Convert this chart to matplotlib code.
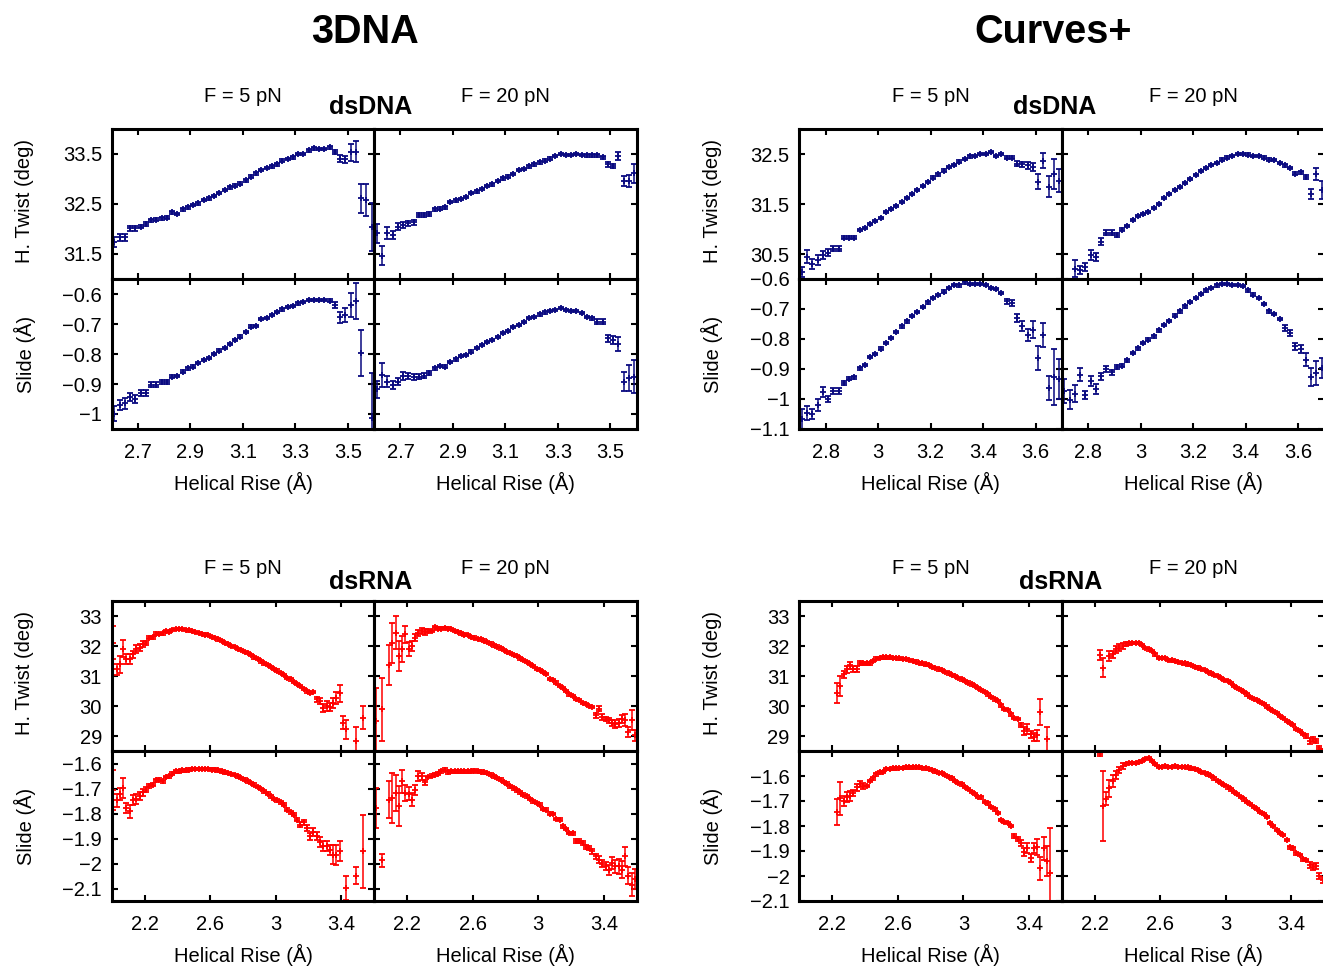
import numpy as np
import matplotlib
matplotlib.use('Agg')
import matplotlib.pyplot as plt
from matplotlib.ticker import FuncFormatter

plt.rcParams['font.family'] = ['Liberation Sans', 'DejaVu Sans']

# helical rise bins (A)
rise_3dna_dna = [2.61, 2.63, 2.65, 2.67, 2.69, 2.71, 2.73, 2.75, 2.77, 2.79,
                 2.81, 2.83, 2.85, 2.87, 2.89, 2.91, 2.93, 2.95, 2.97, 2.99,
                 3.01, 3.03, 3.05, 3.07, 3.09, 3.11, 3.13, 3.15, 3.17, 3.19,
                 3.21, 3.23, 3.25, 3.27, 3.29, 3.31, 3.33, 3.35, 3.37, 3.39,
                 3.41, 3.43, 3.45, 3.47, 3.49, 3.51, 3.53, 3.55, 3.57, 3.59]
rise_curves_dna = [2.71, 2.73, 2.75, 2.77, 2.79, 2.81, 2.83, 2.85, 2.87, 2.89,
                   2.91, 2.93, 2.95, 2.97, 2.99, 3.01, 3.03, 3.05, 3.07, 3.09,
                   3.11, 3.13, 3.15, 3.17, 3.19, 3.21, 3.23, 3.25, 3.27, 3.29,
                   3.31, 3.33, 3.35, 3.37, 3.39, 3.41, 3.43, 3.45, 3.47, 3.49,
                   3.51, 3.53, 3.55, 3.57, 3.59, 3.61, 3.63, 3.65, 3.67, 3.69]
rise_rna = [2.01, 2.03, 2.05, 2.07, 2.09, 2.11, 2.13, 2.15, 2.17, 2.19,
            2.21, 2.23, 2.25, 2.27, 2.29, 2.31, 2.33, 2.35, 2.37, 2.39,
            2.41, 2.43, 2.45, 2.47, 2.49, 2.51, 2.53, 2.55, 2.57, 2.59,
            2.61, 2.63, 2.65, 2.67, 2.69, 2.71, 2.73, 2.75, 2.77, 2.79,
            2.81, 2.83, 2.85, 2.87, 2.89, 2.91, 2.93, 2.95, 2.97, 2.99,
            3.01, 3.03, 3.05, 3.07, 3.09, 3.11, 3.13, 3.15, 3.17, 3.19,
            3.21, 3.23, 3.25, 3.27, 3.29, 3.31, 3.33, 3.35, 3.37, 3.39,
            3.41, 3.43, 3.45, 3.47, 3.49, 3.51, 3.53, 3.55, 3.57, 3.59]

# ---- 3DNA dsDNA ----
twist_3dna_dna_f5 = [31.73, 31.83, 31.83, 32.01, 32.01, 32.05, 32.10, 32.17, 32.18, 32.21,
                     32.23, 32.33, 32.30, 32.39, 32.43, 32.48, 32.51, 32.58, 32.61, 32.66,
                     32.71, 32.77, 32.83, 32.87, 32.91, 32.97, 33.05, 33.11, 33.18, 33.21,
                     33.25, 33.29, 33.37, 33.40, 33.43, 33.49, 33.50, 33.57, 33.61, 33.59,
                     33.59, 33.63, 33.54, 33.41, 33.39, 33.53, 33.55, 32.61, 32.58, 32.03]
twist_3dna_dna_f5_err = [0.10, 0.07, 0.07, 0.05, 0.05, 0.04, 0.04, 0.03, 0.03, 0.03,
                         0.02, 0.02, 0.02, 0.02, 0.02, 0.02, 0.02, 0.02, 0.02, 0.02,
                         0.02, 0.02, 0.02, 0.02, 0.02, 0.02, 0.02, 0.02, 0.02, 0.02,
                         0.02, 0.02, 0.02, 0.02, 0.02, 0.02, 0.02, 0.02, 0.02, 0.02,
                         0.02, 0.03, 0.04, 0.06, 0.07, 0.17, 0.20, 0.29, 0.32, 0.48]
slide_3dna_dna_f5 = [-1.000, -0.970, -0.965, -0.944, -0.951, -0.929, -0.929, -0.903, -0.903, -0.893,
                     -0.893, -0.876, -0.873, -0.859, -0.848, -0.842, -0.831, -0.820, -0.813, -0.800,
                     -0.789, -0.780, -0.767, -0.753, -0.742, -0.726, -0.709, -0.707, -0.683, -0.680,
                     -0.670, -0.659, -0.651, -0.644, -0.639, -0.631, -0.626, -0.620, -0.620, -0.620,
                     -0.620, -0.622, -0.637, -0.678, -0.670, -0.637, -0.622, -0.798, None, -1.014]
slide_3dna_dna_f5_err = [0.025, 0.017, 0.017, 0.013, 0.013, 0.010, 0.010, 0.008, 0.008, 0.007,
                         0.006, 0.005, 0.004, 0.004, 0.004, 0.004, 0.004, 0.004, 0.004, 0.004,
                         0.004, 0.004, 0.004, 0.004, 0.004, 0.004, 0.004, 0.004, 0.004, 0.004,
                         0.004, 0.004, 0.004, 0.004, 0.004, 0.004, 0.004, 0.004, 0.004, 0.004,
                         0.004, 0.004, 0.011, 0.017, 0.024, 0.039, 0.060, 0.077, 0.0, 0.150]
twist_3dna_dna_f20 = [31.91, 31.46, 31.91, 31.88, 32.05, 32.08, 32.11, 32.13, 32.28, 32.28,
                      32.30, 32.39, 32.41, 32.43, 32.53, 32.57, 32.59, 32.63, 32.71, 32.75,
                      32.80, 32.85, 32.89, 32.95, 33.01, 33.05, 33.10, 33.17, 33.20, 33.25,
                      33.29, 33.33, 33.37, 33.41, 33.45, 33.50, 33.48, 33.48, 33.50, 33.48,
                      33.47, 33.47, 33.47, 33.43, 33.29, 33.26, 33.46, 32.96, 32.96, 33.11]
twist_3dna_dna_f20_err = [0.19, 0.19, 0.12, 0.08, 0.07, 0.06, 0.05, 0.05, 0.04, 0.04,
                          0.03, 0.02, 0.02, 0.02, 0.02, 0.02, 0.02, 0.02, 0.02, 0.02,
                          0.02, 0.02, 0.02, 0.02, 0.02, 0.02, 0.02, 0.02, 0.02, 0.02,
                          0.02, 0.02, 0.02, 0.02, 0.02, 0.02, 0.02, 0.02, 0.02, 0.02,
                          0.02, 0.02, 0.02, 0.03, 0.05, 0.05, 0.08, 0.10, 0.12, 0.19]
slide_3dna_dna_f20 = [-0.918, -0.870, -0.892, -0.903, -0.892, -0.873, -0.873, -0.876, -0.876, -0.872,
                      -0.864, -0.848, -0.840, -0.842, -0.826, -0.818, -0.806, -0.803, -0.792, -0.780,
                      -0.770, -0.761, -0.753, -0.744, -0.731, -0.723, -0.711, -0.703, -0.694, -0.679,
                      -0.676, -0.668, -0.661, -0.657, -0.653, -0.646, -0.653, -0.656, -0.657, -0.664,
                      -0.676, -0.681, -0.692, -0.692, -0.748, -0.753, -0.767, -0.892, -0.881, -0.876]
slide_3dna_dna_f20_err = [0.028, 0.040, 0.017, 0.013, 0.013, 0.013, 0.010, 0.010, 0.008, 0.008,
                          0.006, 0.005, 0.004, 0.004, 0.004, 0.004, 0.004, 0.004, 0.004, 0.004,
                          0.004, 0.004, 0.004, 0.004, 0.004, 0.004, 0.004, 0.004, 0.004, 0.004,
                          0.004, 0.004, 0.004, 0.004, 0.004, 0.004, 0.004, 0.004, 0.004, 0.004,
                          0.004, 0.004, 0.009, 0.009, 0.011, 0.013, 0.022, 0.033, 0.044, 0.055]

# ---- Curves+ dsDNA ----
twist_curves_dna_f5 = [30.15, 30.45, 30.30, 30.38, 30.48, 30.53, 30.61, 30.61, 30.83, 30.83,
                       30.83, 30.98, 31.03, 31.11, 31.16, 31.23, 31.34, 31.41, 31.47, 31.55,
                       31.63, 31.71, 31.79, 31.87, 31.95, 32.03, 32.09, 32.17, 32.24, 32.29,
                       32.35, 32.40, 32.45, 32.47, 32.51, 32.51, 32.54, 32.47, 32.50, 32.43,
                       32.43, 32.31, 32.30, 32.27, 32.25, 31.94, 32.37, 31.85, 32.11, 31.97]
twist_curves_dna_f5_err = [0.10, 0.13, 0.10, 0.10, 0.08, 0.07, 0.05, 0.05, 0.03, 0.03,
                           0.03, 0.02, 0.02, 0.02, 0.02, 0.02, 0.02, 0.02, 0.02, 0.02,
                           0.02, 0.02, 0.02, 0.02, 0.02, 0.02, 0.02, 0.02, 0.02, 0.02,
                           0.02, 0.02, 0.02, 0.02, 0.02, 0.02, 0.02, 0.02, 0.02, 0.02,
                           0.03, 0.05, 0.05, 0.08, 0.08, 0.15, 0.15, 0.20, 0.30, 0.23]
slide_curves_dna_f5 = [-1.067, -1.047, -1.049, -1.019, -0.978, -1.000, -0.974, -0.974, -0.947, -0.933,
                       -0.928, -0.898, -0.886, -0.860, -0.849, -0.832, -0.813, -0.797, -0.777, -0.758,
                       -0.741, -0.724, -0.709, -0.693, -0.678, -0.663, -0.654, -0.642, -0.630, -0.620,
                       -0.621, -0.611, -0.616, -0.616, -0.616, -0.620, -0.630, -0.633, -0.647, -0.674,
                       -0.680, -0.730, -0.756, -0.786, -0.769, -0.863, -0.786, -0.963, -0.927, -0.933]
slide_curves_dna_f5_err = [0.033, 0.022, 0.017, 0.020, 0.017, 0.011, 0.009, 0.009, 0.007, 0.005,
                           0.005, 0.004, 0.004, 0.004, 0.004, 0.004, 0.004, 0.004, 0.004, 0.004,
                           0.004, 0.004, 0.004, 0.004, 0.004, 0.004, 0.004, 0.004, 0.004, 0.004,
                           0.004, 0.004, 0.004, 0.004, 0.004, 0.004, 0.004, 0.004, 0.004, 0.009,
                           0.009, 0.013, 0.017, 0.020, 0.028, 0.039, 0.039, 0.039, 0.094, 0.067]
twist_curves_dna_f20 = [None, None, 30.21, 30.18, 30.25, 30.48, 30.45, 30.75, 30.93, 30.93,
                        30.88, 30.99, 31.07, 31.19, 31.26, 31.31, 31.35, 31.42, 31.51, 31.62,
                        31.70, 31.78, 31.85, 31.93, 32.01, 32.08, 32.16, 32.23, 32.29, 32.33,
                        32.39, 32.43, 32.47, 32.50, 32.51, 32.49, 32.46, 32.47, 32.43, 32.39,
                        32.38, 32.33, 32.27, 32.23, 32.11, 32.13, 32.05, 31.70, 32.11, 31.78]
twist_curves_dna_f20_err = [0.0, 0.0, 0.17, 0.08, 0.08, 0.10, 0.08, 0.07, 0.05, 0.05,
                            0.04, 0.03, 0.02, 0.02, 0.02, 0.02, 0.02, 0.02, 0.02, 0.02,
                            0.02, 0.02, 0.02, 0.02, 0.02, 0.02, 0.02, 0.02, 0.02, 0.02,
                            0.02, 0.02, 0.02, 0.02, 0.02, 0.02, 0.02, 0.02, 0.02, 0.02,
                            0.02, 0.02, 0.02, 0.02, 0.03, 0.03, 0.04, 0.10, 0.12, 0.17]
slide_curves_dna_f20 = [-0.974, -1.002, -0.982, -0.919, -0.986, -0.939, -0.967, -0.924, -0.900, -0.911,
                        -0.893, -0.889, -0.871, -0.847, -0.831, -0.813, -0.802, -0.791, -0.771, -0.753,
                        -0.740, -0.722, -0.708, -0.691, -0.677, -0.664, -0.649, -0.638, -0.630, -0.621,
                        -0.616, -0.617, -0.620, -0.620, -0.624, -0.638, -0.652, -0.663, -0.683, -0.708,
                        -0.716, -0.733, -0.763, -0.780, -0.824, -0.833, -0.869, -0.927, -0.913, -0.897]
slide_curves_dna_f20_err = [0.040, 0.033, 0.028, 0.022, 0.013, 0.017, 0.017, 0.011, 0.009, 0.009,
                            0.007, 0.005, 0.004, 0.004, 0.004, 0.004, 0.004, 0.004, 0.004, 0.004,
                            0.004, 0.004, 0.004, 0.004, 0.004, 0.004, 0.004, 0.004, 0.004, 0.004,
                            0.004, 0.004, 0.004, 0.004, 0.004, 0.004, 0.004, 0.004, 0.004, 0.004,
                            0.004, 0.004, 0.009, 0.009, 0.011, 0.013, 0.022, 0.031, 0.039, 0.033]

# ---- 3DNA dsRNA ----
twist_3dna_rna_f5 = [32.11, 31.22, 31.39, 31.91, 31.56, 31.56, 31.72, 31.89, 31.94, 32.06,
                     32.11, 32.28, 32.30, 32.41, 32.41, 32.42, 32.50, 32.47, 32.53, 32.56,
                     32.56, 32.56, 32.53, 32.52, 32.49, 32.47, 32.44, 32.41, 32.38, 32.36,
                     32.31, 32.27, 32.22, 32.17, 32.11, 32.06, 32.00, 31.97, 31.91, 31.86,
                     31.81, 31.76, 31.69, 31.62, 31.56, 31.49, 31.42, 31.36, 31.30, 31.24,
                     31.18, 31.11, 31.04, 30.94, 30.89, 30.81, 30.74, 30.67, 30.56, 30.49,
                     30.44, 30.47, 30.22, 30.17, 29.94, 30.00, 29.98, 30.11, 30.28, 30.42,
                     29.44, 29.22, None, None, 28.83, None, 29.61, None, None, None]
twist_3dna_rna_f5_err = [0.55, 0.18, 0.28, 0.28, 0.17, 0.17, 0.13, 0.13, 0.11, 0.11,
                         0.07, 0.06, 0.05, 0.05, 0.04, 0.04, 0.04, 0.04, 0.04, 0.04,
                         0.04, 0.04, 0.04, 0.04, 0.04, 0.04, 0.04, 0.04, 0.04, 0.04,
                         0.04, 0.04, 0.04, 0.04, 0.04, 0.04, 0.04, 0.04, 0.04, 0.04,
                         0.04, 0.04, 0.04, 0.04, 0.04, 0.04, 0.04, 0.04, 0.04, 0.04,
                         0.04, 0.04, 0.04, 0.04, 0.04, 0.04, 0.04, 0.04, 0.04, 0.04,
                         0.04, 0.04, 0.09, 0.09, 0.13, 0.17, 0.13, 0.17, 0.20, 0.28,
                         0.22, 0.33, 0.0, 0.0, 0.47, 0.0, 0.39, 0.0, 0.0, 0.0]
slide_3dna_rna_f5 = [-1.704, -1.747, -1.720, -1.697, -1.777, -1.791, -1.747, -1.741, -1.731, -1.715,
                     -1.704, -1.688, -1.684, -1.667, -1.664, -1.671, -1.653, -1.651, -1.640, -1.631,
                     -1.631, -1.627, -1.627, -1.624, -1.621, -1.621, -1.621, -1.621, -1.621, -1.621,
                     -1.624, -1.624, -1.627, -1.631, -1.635, -1.637, -1.641, -1.645, -1.651, -1.657,
                     -1.664, -1.671, -1.677, -1.684, -1.693, -1.701, -1.711, -1.720, -1.731, -1.741,
                     -1.747, -1.755, -1.764, -1.784, -1.795, -1.804, -1.824, -1.844, -1.835, -1.857,
                     -1.891, -1.875, -1.891, -1.915, -1.931, -1.928, -1.944, -1.964, -1.964, -1.951,
                     None, -2.097, None, None, -2.048, None, -1.951, None, None, None]
slide_3dna_rna_f5_err = [0.080, 0.027, 0.024, 0.040, 0.020, 0.027, 0.020, 0.020, 0.016, 0.013,
                         0.011, 0.008, 0.005, 0.005, 0.005, 0.005, 0.005, 0.005, 0.005, 0.005,
                         0.005, 0.005, 0.005, 0.005, 0.005, 0.005, 0.005, 0.005, 0.005, 0.005,
                         0.005, 0.005, 0.005, 0.005, 0.005, 0.005, 0.005, 0.005, 0.005, 0.005,
                         0.005, 0.005, 0.005, 0.005, 0.005, 0.005, 0.005, 0.005, 0.005, 0.005,
                         0.005, 0.005, 0.005, 0.005, 0.005, 0.005, 0.005, 0.011, 0.011, 0.013,
                         0.013, 0.016, 0.016, 0.020, 0.020, 0.020, 0.020, 0.037, 0.040, 0.040,
                         0.0, 0.047, 0.0, 0.0, 0.033, 0.0, 0.147, 0.0, 0.0, 0.0]
twist_3dna_rna_f20 = [29.50, None, 29.89, None, 31.36, 32.11, 32.44, 31.67, 31.91, 32.39,
                      31.91, 32.00, 32.28, 32.44, 32.50, 32.47, 32.51, 32.50, 32.64, 32.58,
                      32.58, 32.59, 32.58, 32.56, 32.51, 32.47, 32.42, 32.38, 32.36, 32.31,
                      32.28, 32.24, 32.22, 32.18, 32.13, 32.08, 32.02, 31.98, 31.92, 31.87,
                      31.81, 31.76, 31.71, 31.67, 31.59, 31.53, 31.47, 31.40, 31.33, 31.24,
                      31.20, 31.13, 31.06, 30.91, 30.87, 30.78, 30.67, 30.60, 30.50, 30.39,
                      30.33, 30.24, 30.20, 30.11, 30.06, 30.00, 29.97, 29.69, 29.91, 29.64,
                      29.58, 29.52, 29.44, 29.39, 29.44, 29.56, 29.53, 29.13, 29.53, 29.02]
twist_3dna_rna_f20_err = [1.10, 0.0, 1.05, 0.0, 0.67, 0.67, 0.55, 0.50, 0.44, 0.28,
                          0.24, 0.17, 0.11, 0.09, 0.09, 0.09, 0.06, 0.05, 0.04, 0.04,
                          0.04, 0.04, 0.04, 0.04, 0.04, 0.04, 0.04, 0.04, 0.04, 0.04,
                          0.04, 0.04, 0.04, 0.04, 0.04, 0.04, 0.04, 0.04, 0.04, 0.04,
                          0.04, 0.04, 0.04, 0.04, 0.04, 0.04, 0.04, 0.04, 0.04, 0.04,
                          0.04, 0.04, 0.04, 0.04, 0.04, 0.04, 0.04, 0.04, 0.04, 0.04,
                          0.04, 0.04, 0.04, 0.04, 0.04, 0.04, 0.04, 0.09, 0.09, 0.09,
                          0.07, 0.07, 0.11, 0.13, 0.13, 0.13, 0.20, 0.17, 0.33, 0.17]
slide_3dna_rna_f20 = [-1.777, None, -1.987, None, -1.744, -1.737, -1.717, -1.768, -1.671, -1.717,
                      -1.720, -1.744, -1.704, -1.651, -1.651, -1.675, -1.653, -1.648, -1.644, -1.640,
                      -1.631, -1.624, -1.635, -1.631, -1.631, -1.631, -1.631, -1.631, -1.631, -1.631,
                      -1.628, -1.631, -1.632, -1.635, -1.637, -1.644, -1.651, -1.657, -1.664, -1.673,
                      -1.680, -1.691, -1.699, -1.707, -1.715, -1.724, -1.731, -1.741, -1.751, -1.757,
                      -1.764, -1.781, -1.784, -1.800, -1.801, -1.821, -1.824, -1.851, -1.861, -1.877,
                      -1.879, -1.911, -1.911, -1.917, -1.933, -1.937, -1.951, -1.971, -1.984, -2.000,
                      -2.011, -2.024, -1.997, -2.011, -2.011, -2.024, -1.971, -2.048, -2.084, -2.061]
slide_3dna_rna_f20_err = [0.080, 0.0, 0.027, 0.0, 0.073, 0.100, 0.073, 0.080, 0.047, 0.033,
                          0.027, 0.027, 0.020, 0.020, 0.013, 0.011, 0.005, 0.005, 0.005, 0.005,
                          0.005, 0.005, 0.005, 0.005, 0.005, 0.005, 0.005, 0.005, 0.005, 0.005,
                          0.005, 0.005, 0.005, 0.005, 0.005, 0.005, 0.005, 0.005, 0.005, 0.005,
                          0.005, 0.005, 0.005, 0.005, 0.005, 0.005, 0.005, 0.005, 0.005, 0.005,
                          0.005, 0.005, 0.005, 0.005, 0.005, 0.005, 0.005, 0.005, 0.005, 0.005,
                          0.005, 0.008, 0.008, 0.008, 0.008, 0.008, 0.011, 0.011, 0.013, 0.013,
                          0.016, 0.020, 0.024, 0.027, 0.029, 0.033, 0.037, 0.033, 0.047, 0.040]

# ---- Curves+ dsRNA ----
twist_curves_rna_f5 = [None, None, None, None, None, None, None, None, None, None,
                       None, 30.44, 30.67, 31.06, 31.22, 31.36, 31.24, 31.24, 31.44, 31.42,
                       31.42, 31.42, 31.50, 31.58, 31.61, 31.62, 31.62, 31.62, 31.61, 31.60,
                       31.59, 31.57, 31.56, 31.53, 31.51, 31.48, 31.44, 31.42, 31.39, 31.36,
                       31.31, 31.27, 31.22, 31.19, 31.14, 31.09, 31.04, 31.00, 30.94, 30.89,
                       30.83, 30.78, 30.72, 30.67, 30.60, 30.53, 30.47, 30.39, 30.31, 30.22,
                       30.16, 30.02, 29.91, 29.87, 29.72, 29.61, 29.56, 29.36, 29.17, 29.24,
                       29.06, 28.98, 29.02, 29.80, None, 28.89, None, None, None, None]
twist_curves_rna_f5_err = [0.0, 0.0, 0.0, 0.0, 0.0, 0.0, 0.0, 0.0, 0.0, 0.0,
                           0.0, 0.33, 0.33, 0.11, 0.13, 0.11, 0.09, 0.09, 0.07, 0.04,
                           0.04, 0.04, 0.04, 0.04, 0.04, 0.04, 0.04, 0.04, 0.04, 0.04,
                           0.04, 0.04, 0.04, 0.04, 0.04, 0.04, 0.04, 0.04, 0.04, 0.04,
                           0.04, 0.04, 0.04, 0.04, 0.04, 0.04, 0.04, 0.04, 0.04, 0.04,
                           0.04, 0.04, 0.04, 0.04, 0.04, 0.04, 0.04, 0.04, 0.04, 0.04,
                           0.04, 0.04, 0.04, 0.04, 0.04, 0.04, 0.04, 0.07, 0.13, 0.17,
                           0.11, 0.13, 0.17, 0.42, 0.0, 0.40, 0.0, 0.0, 0.0, 0.0]
slide_curves_rna_f5 = [None, None, None, None, None, None, None, None, None, None,
                       None, -1.743, -1.689, -1.699, -1.685, -1.680, -1.667, -1.645, -1.632, -1.640,
                       -1.640, -1.619, -1.609, -1.593, -1.585, -1.583, -1.572, -1.572, -1.569, -1.569,
                       -1.568, -1.567, -1.565, -1.565, -1.565, -1.563, -1.565, -1.567, -1.569, -1.572,
                       -1.576, -1.581, -1.587, -1.587, -1.596, -1.603, -1.609, -1.619, -1.627, -1.633,
                       -1.643, -1.652, -1.663, -1.672, -1.683, -1.685, -1.703, -1.709, -1.723, -1.733,
                       -1.747, -1.776, -1.783, -1.789, -1.800, -1.839, -1.853, -1.867, -1.903, -1.889,
                       -1.929, -1.889, -1.883, -1.969, -1.889, -1.939, -1.987, None, None, None]
slide_curves_rna_f5_err = [0.0, 0.0, 0.0, 0.0, 0.0, 0.0, 0.0, 0.0, 0.0, 0.0,
                           0.0, 0.053, 0.065, 0.020, 0.020, 0.020, 0.013, 0.013, 0.011, 0.011,
                           0.005, 0.005, 0.005, 0.005, 0.005, 0.005, 0.005, 0.005, 0.005, 0.005,
                           0.005, 0.005, 0.005, 0.005, 0.005, 0.005, 0.005, 0.005, 0.005, 0.005,
                           0.005, 0.005, 0.005, 0.005, 0.005, 0.005, 0.005, 0.005, 0.005, 0.005,
                           0.005, 0.005, 0.005, 0.005, 0.005, 0.005, 0.005, 0.005, 0.005, 0.005,
                           0.005, 0.005, 0.005, 0.005, 0.005, 0.008, 0.008, 0.011, 0.016, 0.020,
                           0.016, 0.020, 0.033, 0.047, 0.047, 0.060, 0.180, 0.0, 0.0, 0.0]
twist_curves_rna_f20 = [None, None, None, None, None, None, None, None, None, None,
                        None, 31.69, 31.28, None, 31.67, 31.72, 31.89, 31.94, 32.00, 32.06,
                        32.09, 32.11, 32.11, 32.11, 32.04, 31.94, 31.89, 31.83, 31.72, 31.61,
                        31.61, 31.61, 31.53, 31.52, 31.50, 31.47, 31.44, 31.42, 31.39, 31.36,
                        31.31, 31.28, 31.24, 31.19, 31.14, 31.09, 31.04, 31.00, 30.94, 30.87,
                        30.83, 30.76, 30.67, 30.60, 30.53, 30.47, 30.39, 30.31, 30.24, 30.19,
                        30.13, 30.06, 29.98, 29.91, 29.83, 29.76, 29.67, 29.61, 29.50, 29.44,
                        29.36, 29.24, 29.17, 29.06, 29.00, 28.83, 28.89, 28.83, 28.61, 28.50]
twist_curves_rna_f20_err = [0.0, 0.0, 0.0, 0.0, 0.0, 0.0, 0.0, 0.0, 0.0, 0.0,
                            0.0, 0.17, 0.31, 0.0, 0.17, 0.13, 0.11, 0.11, 0.09, 0.07,
                            0.05, 0.04, 0.04, 0.04, 0.04, 0.04, 0.04, 0.04, 0.04, 0.04,
                            0.04, 0.04, 0.04, 0.04, 0.04, 0.04, 0.04, 0.04, 0.04, 0.04,
                            0.04, 0.04, 0.04, 0.04, 0.04, 0.04, 0.04, 0.04, 0.04, 0.04,
                            0.04, 0.04, 0.04, 0.04, 0.04, 0.04, 0.04, 0.04, 0.04, 0.04,
                            0.04, 0.04, 0.04, 0.04, 0.04, 0.04, 0.04, 0.04, 0.04, 0.04,
                            0.04, 0.04, 0.04, 0.04, 0.07, 0.09, 0.09, 0.06, 0.06, 0.06]
slide_curves_rna_f20 = [None, None, None, None, None, None, None, None, None, None,
                        None, -1.510, -1.720, -1.690, -1.649, -1.619, -1.596, -1.576, -1.560, -1.552,
                        -1.549, -1.547, -1.549, -1.543, -1.539, -1.533, -1.529, -1.539, -1.552, -1.563,
                        -1.563, -1.560, -1.563, -1.563, -1.560, -1.563, -1.563, -1.563, -1.565, -1.569,
                        -1.572, -1.576, -1.583, -1.587, -1.593, -1.600, -1.609, -1.619, -1.627, -1.636,
                        -1.645, -1.653, -1.663, -1.672, -1.683, -1.693, -1.703, -1.712, -1.723, -1.732,
                        -1.743, -1.752, -1.763, -1.789, -1.800, -1.816, -1.827, -1.836, -1.856, -1.885,
                        -1.889, -1.909, -1.916, -1.933, -1.936, -1.956, -1.963, -1.960, -2.000, -2.016]
slide_curves_rna_f20_err = [0.0, 0.0, 0.0, 0.0, 0.0, 0.0, 0.0, 0.0, 0.0, 0.0,
                            0.0, 0.010, 0.140, 0.027, 0.033, 0.024, 0.016, 0.013, 0.011, 0.005,
                            0.005, 0.005, 0.005, 0.005, 0.005, 0.005, 0.005, 0.005, 0.005, 0.005,
                            0.005, 0.005, 0.005, 0.005, 0.005, 0.005, 0.005, 0.005, 0.005, 0.005,
                            0.005, 0.005, 0.005, 0.005, 0.005, 0.005, 0.005, 0.005, 0.005, 0.005,
                            0.005, 0.005, 0.005, 0.005, 0.005, 0.005, 0.005, 0.005, 0.005, 0.005,
                            0.005, 0.005, 0.005, 0.005, 0.005, 0.005, 0.005, 0.005, 0.005, 0.005,
                            0.005, 0.005, 0.005, 0.005, 0.005, 0.011, 0.013, 0.013, 0.013, 0.013]

navy = '#0a0a80'
red = '#ff0000'

W, H = 1323, 968
fig = plt.figure(figsize=(W / 100, H / 100), dpi=100)
PW, PH = 262.5, 150.0
FS = 14.5


def minus_fmt(v, pos):
    return ('%g' % round(v, 3)).replace('-', '\u2212')


def ftext(x, y, s, **kw):
    fig.text(x / W, 1 - y / H, s, ha='center', va='center', **kw)


def panel(left, top, x, y, err, color, xlim, ylim, xticks, yticks,
          show_x, show_y):
    ax = fig.add_axes([left / W, 1 - (top + PH) / H, PW / W, PH / H])
    y = np.array(y, dtype=float)
    ax.errorbar(x, y, yerr=err, fmt='+', color=color, ms=4.5, mew=1.3,
                elinewidth=1.1, capsize=1.9, capthick=1.1)
    ax.set_xlim(xlim)
    ax.set_ylim(ylim)
    ax.set_xticks(xticks)
    ax.set_yticks(yticks)
    ax.xaxis.set_major_formatter(FuncFormatter(minus_fmt))
    ax.yaxis.set_major_formatter(FuncFormatter(minus_fmt))
    ax.tick_params(direction='in', length=4, width=1.5, top=True, right=True,
                   labelsize=FS)
    ax.tick_params(axis='x', labelbottom=show_x, pad=10)
    ax.tick_params(axis='y', labelleft=show_y, pad=7)
    for s in ax.spines.values():
        s.set_linewidth(2.2)
    return ax


blocks = [
    dict(left=111.7, top=129, x=rise_3dna_dna, color=navy,
         data=[(twist_3dna_dna_f5, twist_3dna_dna_f5_err, slide_3dna_dna_f5, slide_3dna_dna_f5_err),
               (twist_3dna_dna_f20, twist_3dna_dna_f20_err, slide_3dna_dna_f20, slide_3dna_dna_f20_err)],
         xlim=(2.6, 3.6), tw_lim=(31, 34), sl_lim=(-1.05, -0.55),
         xticks=[2.7, 2.9, 3.1, 3.3, 3.5], tw_ticks=[31.5, 32.5, 33.5],
         sl_ticks=[-1.0, -0.9, -0.8, -0.7, -0.6]),
    dict(left=799.3, top=129, x=rise_curves_dna, color=navy,
         data=[(twist_curves_dna_f5, twist_curves_dna_f5_err, slide_curves_dna_f5, slide_curves_dna_f5_err),
               (twist_curves_dna_f20, twist_curves_dna_f20_err, slide_curves_dna_f20, slide_curves_dna_f20_err)],
         xlim=(2.7, 3.7), tw_lim=(30, 33), sl_lim=(-1.1, -0.6),
         xticks=[2.8, 3.0, 3.2, 3.4, 3.6], tw_ticks=[30.5, 31.5, 32.5],
         sl_ticks=[-1.1, -1.0, -0.9, -0.8, -0.7, -0.6]),
    dict(left=111.7, top=601, x=rise_rna, color=red,
         data=[(twist_3dna_rna_f5, twist_3dna_rna_f5_err, slide_3dna_rna_f5, slide_3dna_rna_f5_err),
               (twist_3dna_rna_f20, twist_3dna_rna_f20_err, slide_3dna_rna_f20, slide_3dna_rna_f20_err)],
         xlim=(2.0, 3.6), tw_lim=(28.5, 33.5), sl_lim=(-2.15, -1.55),
         xticks=[2.2, 2.6, 3.0, 3.4], tw_ticks=[29, 30, 31, 32, 33],
         sl_ticks=[-2.1, -2.0, -1.9, -1.8, -1.7, -1.6]),
    dict(left=799.3, top=601, x=rise_rna, color=red,
         data=[(twist_curves_rna_f5, twist_curves_rna_f5_err, slide_curves_rna_f5, slide_curves_rna_f5_err),
               (twist_curves_rna_f20, twist_curves_rna_f20_err, slide_curves_rna_f20, slide_curves_rna_f20_err)],
         xlim=(2.0, 3.6), tw_lim=(28.5, 33.5), sl_lim=(-2.1, -1.5),
         xticks=[2.2, 2.6, 3.0, 3.4], tw_ticks=[29, 30, 31, 32, 33],
         sl_ticks=[-2.1, -2.0, -1.9, -1.8, -1.7, -1.6]),
]

for b in blocks:
    for i, (tw, twe, sl, sle) in enumerate(b['data']):
        left = b['left'] + i * PW
        panel(left, b['top'], b['x'], tw, twe, b['color'], b['xlim'], b['tw_lim'],
              b['xticks'], b['tw_ticks'], False, i == 0)
        panel(left, b['top'] + PH, b['x'], sl, sle, b['color'], b['xlim'], b['sl_lim'],
              b['xticks'], b['sl_ticks'], True, i == 0)
        ftext(left + PW / 2, b['top'] - 32, 'F = 5 pN' if i == 0 else 'F = 20 pN', fontsize=FS)
        ftext(left + PW / 2, b['top'] + 2 * PH + 54, 'Helical Rise (Å)', fontsize=FS)
    ftext(b['left'] - 87, b['top'] + 72, 'H. Twist (deg)', fontsize=FS, rotation=90)
    ftext(b['left'] - 87, b['top'] + PH + 75, 'Slide (Å)', fontsize=FS, rotation=90)

ftext(365, 32, '3DNA', fontsize=28.5, fontweight='bold')
ftext(1053, 32, 'Curves+', fontsize=28.5, fontweight='bold')
ftext(371, 107, 'dsDNA', fontsize=18, fontweight='bold')
ftext(1055, 107, 'dsDNA', fontsize=18, fontweight='bold')
ftext(371, 582, 'dsRNA', fontsize=18, fontweight='bold')
ftext(1061, 582, 'dsRNA', fontsize=18, fontweight='bold')

fig.savefig('out.png', dpi=100)
